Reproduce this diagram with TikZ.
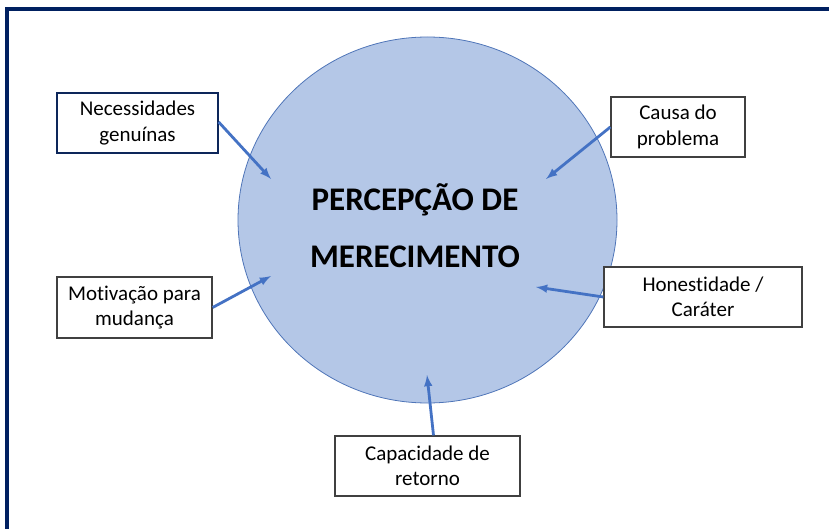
\documentclass[tikz,border=0pt]{standalone}
\usepackage{fontspec}
\setmainfont{Carlito}[Ligatures=NoCommon]
\usetikzlibrary{arrows,shapes.geometric}

\definecolor{frameblue}{HTML}{002060}
\definecolor{circfill}{HTML}{B4C7E7}
\definecolor{circline}{HTML}{4F75B8}
\definecolor{arrowblue}{HTML}{4472C4}
\definecolor{boxgray}{HTML}{404040}

\begin{document}
\begin{tikzpicture}[x=1pt,y=-1pt,
    factor/.style={draw=boxgray,line width=1.3pt,fill=white,align=center,font=\fontsize{21}{25.5}\selectfont,inner sep=0pt},
    arr/.style={draw=arrowblue,line width=2.8pt,-latex}]
          \useasboundingbox (0,0) rectangle (829,529);
          \draw[frameblue,line width=4pt] (6.5,529) -- (6.5,9) -- (829,9);
          \node (c) [ellipse,draw=circline,fill=circfill,line width=0.8pt,minimum width=379pt,minimum height=366pt,inner sep=0pt] at (427.5,220) {};
          \node (t) [align=center,font=\fontsize{33}{57}\selectfont\bfseries] at (415,226) {PERCEPÇÃO DE\\MERECIMENTO};
          \node (n) [factor,draw=frameblue!80!boxgray,minimum width=161pt,minimum height=60pt] at (137.5,123) {Necessidades\\genuínas};
          \node (p) [factor,minimum width=134pt,minimum height=60pt] at (678,127) {Causa do\\problema};
          \node (m) [factor,minimum width=155pt,minimum height=61pt] at (134.5,307.5) {Motivação para\\mudança};
          \node (h) [factor,minimum width=198pt,minimum height=60pt] at (703,297) {Honestidade /\\Caráter};
          \node (r) [factor,minimum width=185pt,minimum height=60pt] at (427.5,466) {Capacidade de\\retorno};
          \coordinate (cn) at (271,179);
          \coordinate (cp) at (546,179);
          \coordinate (cm) at (271,276);
          \coordinate (ch) at (536,287);
          \coordinate (cr) at (427,375);
          \draw[arr] (n.east) ++(0,-1) -- (cn);
          \draw[arr] (p.west) -- (cp);
          \draw[arr] (m.east) -- (cm);
          \draw[arr] (h.west) -- (ch);
          \draw[arr] (r.north) ++(6,0) -- (cr);
        \end{tikzpicture}
\end{document}
